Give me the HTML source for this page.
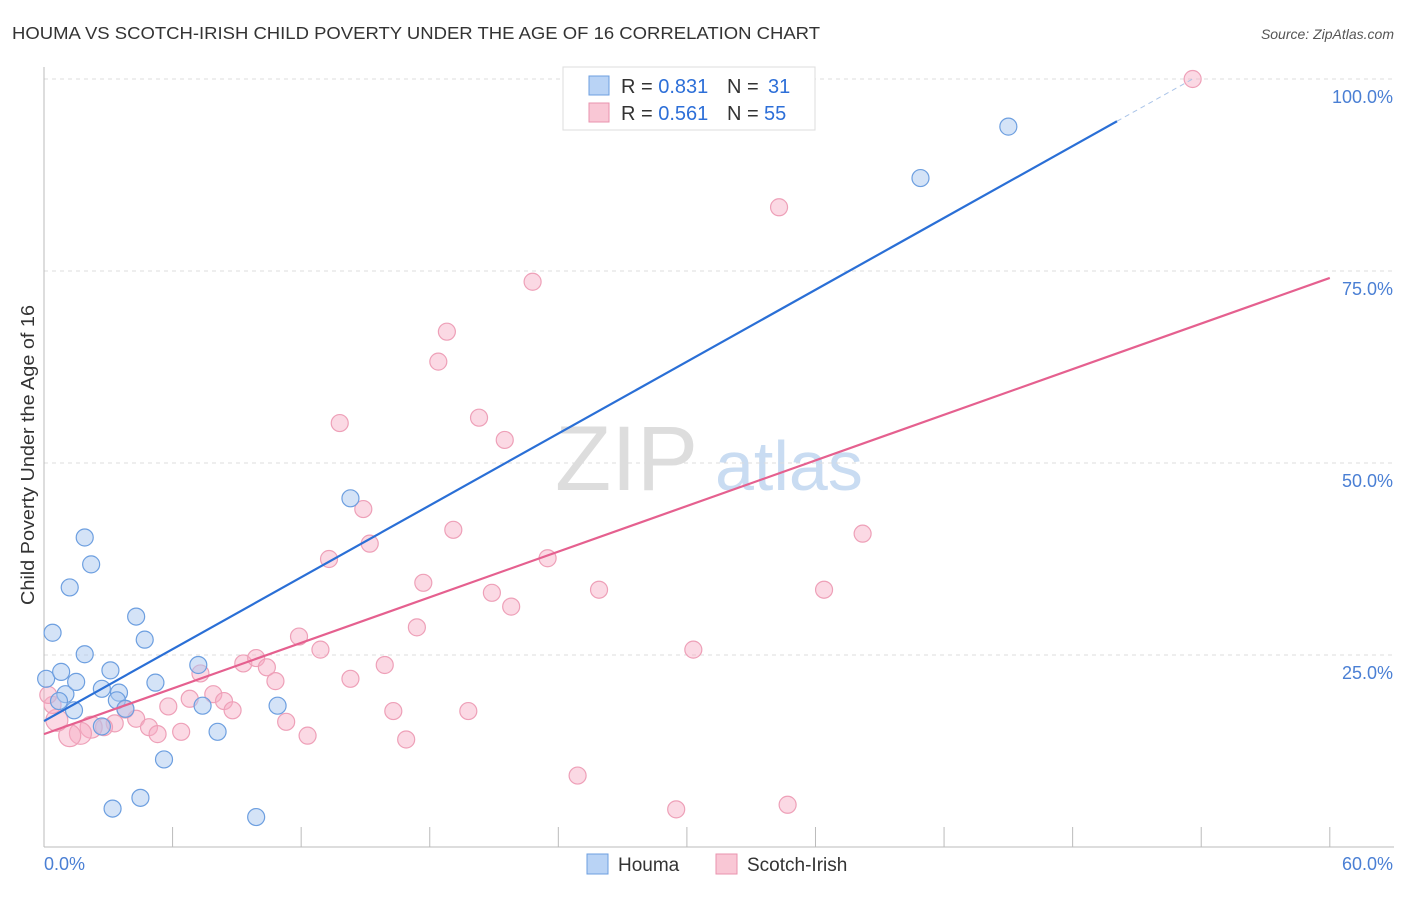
<!DOCTYPE html>
<html><head><meta charset="utf-8"><style>
body{margin:0;background:#fff;font-family:"Liberation Sans",sans-serif;}
svg text{font-family:"Liberation Sans",sans-serif;}
</style></head><body>
<svg id="chart" width="1406" height="892" viewBox="0 0 1406 892" xmlns="http://www.w3.org/2000/svg">
<text x="12" y="39" font-size="17.5" fill="#333" textLength="808" lengthAdjust="spacingAndGlyphs">HOUMA VS SCOTCH-IRISH CHILD POVERTY UNDER THE AGE OF 16 CORRELATION CHART</text>
<text x="1394" y="39" font-size="14" fill="#555" font-style="italic" text-anchor="end">Source: ZipAtlas.com</text>
<text transform="translate(34,455) rotate(-90)" font-size="18" fill="#333" text-anchor="middle" textLength="300" lengthAdjust="spacingAndGlyphs">Child Poverty Under the Age of 16</text>
<g><text x="555" y="490" font-size="92" fill="#ddd" font-family="Liberation Serif,serif">ZIP</text><text x="715" y="490" font-size="70" fill="#c9dcf2">atlas</text></g>
<g id="grid"></g>
<g id="axes"></g>
<g id="marks"></g>
<g>
<rect x="563" y="67" width="252" height="63" fill="#fff" stroke="#ddd"/>
<rect x="589" y="76" width="20" height="19" fill="#b9d3f5" stroke="#6d9fe0"/>
<rect x="589" y="103" width="20" height="19" fill="#f9c7d5" stroke="#e993ae"/>
<text x="621" y="93" font-size="20" fill="#333">R = <tspan fill="#2d6fd8">0.831</tspan></text>
<text x="727" y="93" font-size="20" fill="#333">N =</text><text x="768" y="93" font-size="20" fill="#2d6fd8">31</text>
<text x="621" y="120" font-size="20" fill="#333">R = <tspan fill="#2d6fd8">0.561</tspan></text>
<text x="727" y="120" font-size="20" fill="#333">N =</text><text x="764" y="120" font-size="20" fill="#2d6fd8">55</text>
</g>
<g>
<rect x="587" y="854" width="21" height="20" fill="#b9d3f5" stroke="#6d9fe0"/>
<text x="618" y="871" font-size="19" fill="#333">Houma</text>
<rect x="716" y="854" width="21" height="20" fill="#f9c7d5" stroke="#e993ae"/>
<text x="747" y="871" font-size="19" fill="#333">Scotch-Irish</text>
</g>
</svg>
<script>
const houmaX=[0.1,0.8,1,1.5,1.4,0.7,0.4,1.9,1.9,2.2,1.2,3.1,2.7,3.5,3.4,3.8,2.7,4.3,4.7,5.2,5.6,4.5,3.2,7.2,7.4,8.1,9.9,10.9,14.3,40.9,45];
const houmaY=[21.9,22.8,19.9,21.5,17.8,19,27.9,25.1,40.3,36.8,33.8,23,20.6,20.1,19.1,18,15.7,30,27,21.4,11.4,6.4,5,23.7,18.4,15,3.9,18.4,45.4,87.1,93.8];
const scotX=[53.6,34.3,22.8,18.8,18.4,13.8,20.3,21.5,14.9,19.1,15.2,13.3,23.5,17.7,20.9,21.8,25.9,36.4,38.2,17.4,11.9,12.9,30.3,9.3,9.9,10.4,15.9,7.3,10.8,14.3,7.9,6.8,8.4,5.8,8.8,16.3,19.8,3.8,4.3,4.9,5.3,6.4,11.3,12.3,16.9,3.3,2.8,2.2,1.7,1.2,0.6,0.4,0.2,24.9,29.5,34.7];
const scotY=[100,83.3,73.6,67.1,63.2,55.2,55.9,53,44,41.3,39.5,37.5,37.6,34.4,33.1,31.3,33.5,33.5,40.8,28.6,27.4,25.7,25.7,23.9,24.6,23.4,23.7,22.6,21.6,21.9,19.9,19.3,19,18.3,17.8,17.7,17.7,17.9,16.7,15.6,14.7,15,16.3,14.5,14,16.1,15.6,15.6,14.8,14.5,16.5,18.5,19.8,9.3,4.9,5.5];
const yTicks=[25,50,75,100];
const yTickLabels=["25.0%","50.0%","75.0%","100.0%"];
const xTicks=[0,6,12,18,24,30,36,42,48,54,60];
const blueLine=[0,16.4,50.07,94.5,53.6,100];
const pinkLine=[0,14.7,60,74.1];
const NS="http://www.w3.org/2000/svg";
const X=v=>44+v*21.43, Y=v=>847-v*7.68;
function mk(p,t,a){const e=document.createElementNS(NS,t);for(const k in a)e.setAttribute(k,a[k]);p.appendChild(e);return e;}
const grid=document.getElementById('grid'),axes=document.getElementById('axes'),marks=document.getElementById('marks');
yTicks.forEach((t,i)=>{
 const l=mk(grid,'line',{x1:44,x2:1394,y1:Y(t),y2:Y(t),stroke:'#ddd','stroke-dasharray':'4,4'});
 
 
 const tx=mk(axes,'text',{x:1393,y:Y(t)+24,'font-size':18,fill:'#4a7fd4','text-anchor':'end'});tx.textContent=yTickLabels[i];
 
 
});
mk(axes,'line',{x1:44,x2:44,y1:67,y2:847,stroke:'#bbb'});
mk(axes,'line',{x1:44,x2:1394,y1:847,y2:847,stroke:'#bbb'});
xTicks.forEach(t=>{const l=mk(axes,'line',{x1:X(t),x2:X(t),y1:827,y2:847,stroke:'#bbb'});
 
 });
let t0=mk(axes,'text',{x:44,y:870,'font-size':18,fill:'#4a7fd4'});t0.textContent='0.0%';
let t1=mk(axes,'text',{x:1393,y:870,'font-size':18,fill:'#4a7fd4','text-anchor':'end'});t1.textContent='60.0%';
scotX.forEach((v,i)=>{const c=mk(marks,'circle',{cx:X(v),cy:Y(scotY[i]),r:(i>=47&&i<=50)?11:8.5,fill:'rgba(246,170,195,0.45)',stroke:'#eea0b8','stroke-width':1.2});
 
 });
houmaX.forEach((v,i)=>{const c=mk(marks,'circle',{cx:X(v),cy:Y(houmaY[i]),r:8.5,fill:'rgba(170,200,240,0.5)',stroke:'#6d9fe0','stroke-width':1.2});
 
 });
const bl=mk(marks,'line',{x1:X(blueLine[0]),y1:Y(blueLine[1]),x2:X(blueLine[2]),y2:Y(blueLine[3]),stroke:'#2a6fd6','stroke-width':2.2});


mk(marks,'line',{x1:X(blueLine[2]),y1:Y(blueLine[3]),x2:X(blueLine[4]),y2:Y(blueLine[5]),stroke:'#aac4e8','stroke-width':1,'stroke-dasharray':'5,4'});
const pl=mk(marks,'line',{x1:X(pinkLine[0]),y1:Y(pinkLine[1]),x2:X(pinkLine[2]),y2:Y(pinkLine[3]),stroke:'#e5608f','stroke-width':2.2});


</script>
</body></html>
